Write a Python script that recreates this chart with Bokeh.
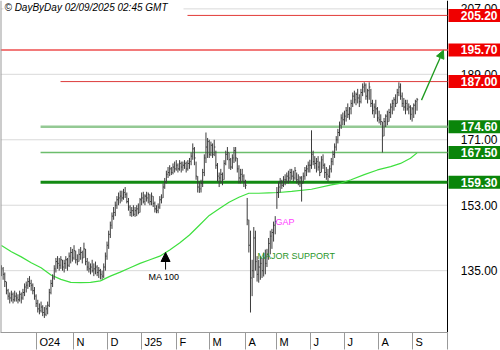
from bokeh.plotting import figure
from bokeh.models import Range1d, FixedTicker, Span, Label, Arrow, NormalHead
from bokeh.core.properties import value
from bokeh.embed import file_html
from bokeh.resources import INLINE

# ---------------- data (daily bars, Sep 2024 - Sep 2025) ----------------
low = [
    133.5, 132.5, 130.5, 128.5, 127, 126, 126.5, 126, 126.5, 126.5, 126, 126.5, 126, 127, 128, 129, 130, 130.5, 129.5, 128.5,
    127, 125, 123.5, 123, 123.5, 122.5, 122, 122.5, 123, 125, 128.5, 130.5, 132.5, 134.5, 135.5, 135, 135.5, 135, 134.5, 135.5, 135, 136, 137,
    137.5, 138, 137, 136.5, 137.5, 138, 137, 138.5, 136.5, 135, 134.5, 134, 134.5, 133.5, 134, 133.5, 133, 132.6, 132.6, 133,
    135, 138, 141, 144, 146.5, 149, 150, 152, 153, 153.5, 154, 154.5, 155, 153.5, 151.5, 150, 149.8, 150, 149.8, 150, 150.5,
    151, 153, 153.5, 153, 154, 153.5, 153, 153, 152.5, 151, 150.8, 150.8, 152, 153.5, 155, 157.5, 159, 160.5, 161, 161.3, 161.5,
    162, 162.5, 162, 162.5, 162, 162.5, 163, 162, 162.5, 163, 164, 165.5, 164, 160, 156.5, 156.4, 156.5, 158, 161, 164.6,
    166, 166, 166.5, 166, 166.5, 163, 159.5, 158, 159, 158.5, 160, 164, 165.4, 163, 162.7, 163, 164.6, 165, 162, 159, 159,
    159.5, 158, 157.5, 147.5, 140, 123.5, 128, 133, 135, 132, 131.7, 132.5, 133, 133.4, 134, 136, 138, 139.5, 141, 143, 145,
    152, 155, 156.5, 157.5, 158, 158.5, 159, 159, 159.5, 160, 159.5, 160, 159, 158.5, 158, 154, 159, 160, 161, 162, 162,
    163, 164, 163, 162, 162.5, 161, 162, 163, 160.5, 160, 159.5, 160.5, 162, 164, 166, 168, 170, 172, 174, 175,
    175, 176, 177, 176.5, 178, 180, 181, 180.5, 181, 180, 181, 183, 184, 182, 181, 182, 180, 178, 177, 178, 176, 175.5,
    175, 167.5, 172, 174.5, 175, 176, 177, 178, 179, 180, 181, 183, 182, 180, 179, 178, 179, 178, 176.5, 176, 177,
    178, 179,
]
high = [
    136.5, 136, 134.5, 132, 130, 129, 129.5, 129, 129.5, 129, 128.5, 129.5, 129, 130, 131.5, 132, 133, 133.5, 132.5, 131.5,
    130.5, 128.5, 127, 126, 126.5, 125.5, 125, 125.5, 126.5, 130, 132.5, 134, 136.5, 138.5, 139, 138.5, 139, 138, 138, 139, 138.5, 140, 141.5,
    141, 142, 140.5, 139.5, 141, 141.5, 140.5, 142.7, 141, 138.5, 137.5, 137, 138, 137, 137.5, 136.5, 136, 135.5, 135, 137,
    140, 143, 146, 148.5, 151, 152.5, 154, 155.5, 156.5, 157, 157, 157.5, 158, 156.5, 155, 153, 152.5, 153, 152.5, 153, 153.5,
    155, 156.5, 156.7, 156, 156.7, 156.5, 156, 156.5, 155.5, 154, 153, 153.5, 155.5, 156, 159, 160.5, 162.5, 163.5, 164, 163.5, 164.5,
    165, 165.4, 164.5, 165.4, 165, 165, 165.4, 165, 165.4, 166, 167.5, 170, 169, 165, 161, 159.5, 160, 163, 167, 173,
    171.5, 171, 170.5, 170, 171, 168, 164.6, 162, 163, 162, 165.4, 168, 169, 167.4, 166, 167, 169, 169, 166, 164, 163,
    163, 161.5, 160, 155, 149, 146, 138, 147, 146, 139, 138, 139, 138.5, 140, 140.8, 141, 144, 146, 146.5, 148.5, 150,
    158, 159.5, 160.5, 160, 161, 161.5, 162, 162.5, 163, 163, 162.5, 163.5, 162, 161.5, 161, 161, 162, 163.5, 164, 165, 165.5,
    173.6, 168, 166.5, 166, 166.5, 165, 166.5, 167, 164.5, 163.5, 163, 164, 166, 168, 170, 172, 174, 176, 178, 178.5,
    179, 180, 181, 180, 182, 184, 184.5, 184, 185, 183.5, 185, 186.5, 186.8, 186.5, 185, 186.8, 185, 182, 181, 182, 180, 179,
    178, 176, 177, 178, 179, 179.5, 181, 182, 182.7, 183.5, 185, 186.8, 186.5, 184, 182.5, 182, 182, 181, 180.5, 180, 181,
    182, 182.5,
]
close = [
    135.5, 134, 132, 129.5, 128, 127.5, 128.5, 127, 128, 127.5, 127, 128.5, 127.5, 129, 130.5, 131, 132, 131.5, 131, 129.5,
    128, 126, 124.5, 124, 125, 123.5, 123, 124.5, 125.5, 129, 131.5, 133, 135.5, 137.5, 137, 136.5, 138, 136, 137, 138, 136.5, 139, 140,
    138.5, 140.5, 138, 137.5, 139.5, 140, 138.5, 141, 137.5, 136, 135.5, 136, 135, 135.5, 136, 134.5, 135, 134, 133.5, 136,
    139, 142, 145, 147.5, 150, 151, 153, 154.5, 155, 155.5, 155, 156.5, 156, 154, 152.5, 151, 151.5, 150.5, 151.5, 152, 151,
    154.5, 155, 154, 155.5, 155, 156, 154, 155.5, 153.5, 152, 151.5, 152.5, 154.5, 155, 158, 159.5, 161.5, 162, 163, 162, 163.5,
    163, 164, 163, 164.5, 163.5, 164, 164.5, 163, 164.5, 165, 166.5, 168.5, 166, 161, 158, 157.5, 159, 162, 166, 169,
    170.5, 167, 169.5, 167, 169, 164, 161, 160.5, 161.5, 160, 164.5, 167, 167.5, 165.5, 163.5, 166, 168, 166, 163, 160.5, 161.5,
    161, 159.5, 158.5, 149, 142, 133, 135, 144, 137.5, 134, 136, 137, 135, 138.5, 137, 139.5, 142.5, 144.5, 145.5, 147.5, 148.5,
    156.5, 158, 159.5, 158.5, 160, 160, 161, 160.5, 162, 161, 160.5, 162.5, 160, 159.5, 160.5, 159, 161, 162.5, 163, 164, 164,
    167, 165, 164.5, 165, 163.5, 162, 165.5, 164, 162, 161.5, 161, 163, 165, 167, 169, 171, 173, 175, 177, 176.5,
    177.5, 179, 178, 179.5, 181, 183, 182, 183.5, 182.5, 181.5, 184, 185.5, 186, 183, 184.5, 185.5, 181, 179, 180, 179.5, 177, 176.5,
    176, 172, 176, 177.5, 176, 178.5, 180, 181, 182, 181, 184, 185.5, 183, 181, 180, 181, 179.5, 180, 178, 179.5, 180.5,
    181.5, 182,
]

# 100-day moving average (bar index, value)
ma_idx = [0, 6, 12, 18, 24, 30, 36, 42, 48, 54, 60, 66, 72, 78, 84, 90, 96, 102, 108, 114,
          120, 126, 132, 138, 144, 150, 156, 162, 168, 176, 188, 200, 206, 212, 220, 228, 236, 242, 248, 252]
ma_val = [141.9, 140.2, 138.8, 137.2, 135.8, 133.8, 132.6, 131.8, 131.7, 131.8, 132.2, 133.5, 134.6, 135.8, 137.0,
          138.0, 139.0, 140.7, 142.6, 144.8, 147.5, 150.2, 152.0, 153.8, 155.2, 156.3, 156.3, 156.4, 156.5, 156.8,
          157.4, 158.6, 159.1, 160.0, 161.4, 162.7, 163.6, 164.5, 165.9, 167.4]

# horizontal levels
levels = [205.2, 195.7, 187.0, 174.6, 167.5, 159.3]
level_labels = ["205.20", "195.70", "187.00", "174.60", "167.50", "159.30"]
level_start_idx = [112.8, -0.6, 35.8, 23.7, 23.7, 23.7]
level_colors = ["#e23a36", "#f27a7a", "#dd3b3b", "#94c994", "#6cbd6c", "#138a13"]
level_widths = [1, 2, 1, 2.5, 1.5, 3]
box_colors = ["#f00000", "#f00000", "#f00000", "#0a850a", "#0a850a", "#0a850a"]

# axes
y_ticks = [135, 153, 171, 189, 207]
y_tick_labels = ["135.00", "153.00", "171.00", "189.00", "207.00"]
month_labels = ["O24", "N", "D", "J25", "F", "M", "A", "M", "J", "J", "A", "S"]
month_start_idx = [21.2, 43.7, 64.3, 84.9, 106.1, 126.1, 148.0, 166.8, 187.4, 208.0, 228.6, 249.3]

# ---------------- layout constants ----------------
PX_PER_BAR = 1.649
X0 = -0.6
W, H = 500, 350
PLOT_W = 447            # width of the price area; the right 53 px hold the price scale
PX_PER_UNIT = 3.65
Y_LO, Y_HI = 118.0, 209.3


def xi(px):
    """bar-index coordinate of a horizontal pixel position"""
    return X0 + px / PX_PER_BAR


X_RIGHT = xi(PLOT_W)
X_END = xi(W)

p = figure(width=W, height=H, output_backend="svg", toolbar_location=None,
           x_range=Range1d(X0, X_END), y_range=Range1d(Y_LO, Y_HI),
           x_axis_location="below", y_axis_location=None,
           min_border_left=0, min_border_right=0, min_border_top=0, min_border_bottom=17,
           background_fill_color="white", border_fill_color="white", outline_line_color=None)
p.xgrid.visible = False
p.ygrid.visible = False

# x axis: month cells, labels left-aligned in each cell
char_w = {"O": 0.778, "N": 0.722, "D": 0.722, "J": 0.5, "F": 0.611, "M": 0.833, "A": 0.667, "S": 0.667,
          "2": 0.556, "4": 0.556, "5": 0.556}
XFONT = 11
label_pos = []
for s, lab in zip(month_start_idx, month_labels):
    w = sum(char_w.get(c, 0.6) for c in lab) * XFONT
    label_pos.append(round(s + (3 + w / 2) / PX_PER_BAR, 3))

xa = p.xaxis[0]
xa.bounds = (X0, X_RIGHT)
xa.ticker = FixedTicker(ticks=label_pos, minor_ticks=month_start_idx + [round(X_RIGHT, 3)])
xa.major_label_overrides = {t: lab for t, lab in zip(label_pos, month_labels)}
xa.major_tick_out = 0
xa.major_tick_in = 0
xa.major_tick_line_color = None
xa.minor_tick_in = 0
xa.minor_tick_out = 17
xa.minor_tick_line_color = "#9a9a9a"
xa.axis_line_color = "#9a9a9a"
xa.major_label_standoff = -14
xa.major_label_text_font = "Liberation Sans"
xa.major_label_text_font_size = f"{XFONT}px"
xa.major_label_text_color = "black"

# grid lines of the price scale
p.segment(x0=[X0] * len(y_ticks), y0=y_ticks, x1=[X_RIGHT] * len(y_ticks), y1=y_ticks,
          line_color="#d9d9d9", line_width=1)

# left border and right border of the price area
p.add_layout(Span(location=X0, dimension="height", line_color="#9a9a9a", line_width=2))
p.segment(x0=[X_RIGHT], y0=[Y_LO], x1=[X_RIGHT], y1=[Y_HI], line_color="black", line_width=1)

# level lines
for lv, xs, col, lw in zip(levels, level_start_idx, level_colors, level_widths):
    p.segment(x0=[xs], y0=[lv], x1=[X_RIGHT], y1=[lv], line_color=col, line_width=lw)

# moving average
p.line(ma_idx, ma_val, line_color="#3fe03f", line_width=1.2)

# OHLC bars
idx = list(range(len(close)))
p.segment(x0=idx, y0=low, x1=idx, y1=high, line_color="#3c3c3c", line_width=1)
p.segment(x0=idx, y0=close, x1=[i + 0.7 for i in idx], y1=close, line_color="#3c3c3c", line_width=1)

# price scale labels
p.text(x=[xi(497)] * len(y_ticks), y=y_ticks, text=y_tick_labels,
       text_font=value("Liberation Sans"), text_font_size="12px", text_color="black",
       text_align="right", text_baseline="middle")

# level boxes
half_h = 6.5 / PX_PER_UNIT
p.quad(left=[xi(PLOT_W + 1)] * len(levels), right=[X_END + 1] * len(levels),
       bottom=[lv - half_h for lv in levels], top=[lv + half_h for lv in levels],
       fill_color=box_colors, line_color=None)
p.text(x=[xi(497)] * len(levels), y=levels, text=level_labels,
       text_font=value("Liberation Sans"), text_font_style="bold", text_font_size="12px",
       text_color="white", text_align="right", text_baseline="middle")

# title
p.add_layout(Label(x=3, y=207.3, x_units="screen", y_units="data",
                   text="\u00a9 DayByDay 02/09/2025 02:45 GMT", text_font="Liberation Sans",
                   text_font_style="italic", text_font_size="10px", text_color="black",
                   text_baseline="middle", background_fill_color="white",
                   padding=dict(left=1, right=16, top=1, bottom=1)))

# annotations
p.add_layout(Label(x=89.2, y=133.4, text="MA 100", text_font="Liberation Sans",
                   text_font_size="9px", text_color="black", text_baseline="middle"))
p.add_layout(Arrow(end=NormalHead(size=9, fill_color="black", line_color="black"),
                   x_start=99.5, y_start=135.3, x_end=99.5, y_end=140.0,
                   line_color="black", line_width=1))
p.add_layout(Label(x=166.2, y=148.5, text="GAP", text_font="Liberation Sans",
                   text_font_size="9px", text_color="#ff3cff", text_baseline="middle"))
p.add_layout(Label(x=155.3, y=139.1, text="MAJOR SUPPORT", text_font="Liberation Sans",
                   text_font_size="9px", text_color="#2a962a", text_baseline="middle"))
p.add_layout(Arrow(end=NormalHead(size=8, fill_color="#1e9a1e", line_color="#1e9a1e"),
                   x_start=254.7, y_start=181.9, x_end=268.0, y_end=195.6,
                   line_color="#1e9a1e", line_width=1.3))

open("out.html", "w").write(file_html(p, INLINE))
